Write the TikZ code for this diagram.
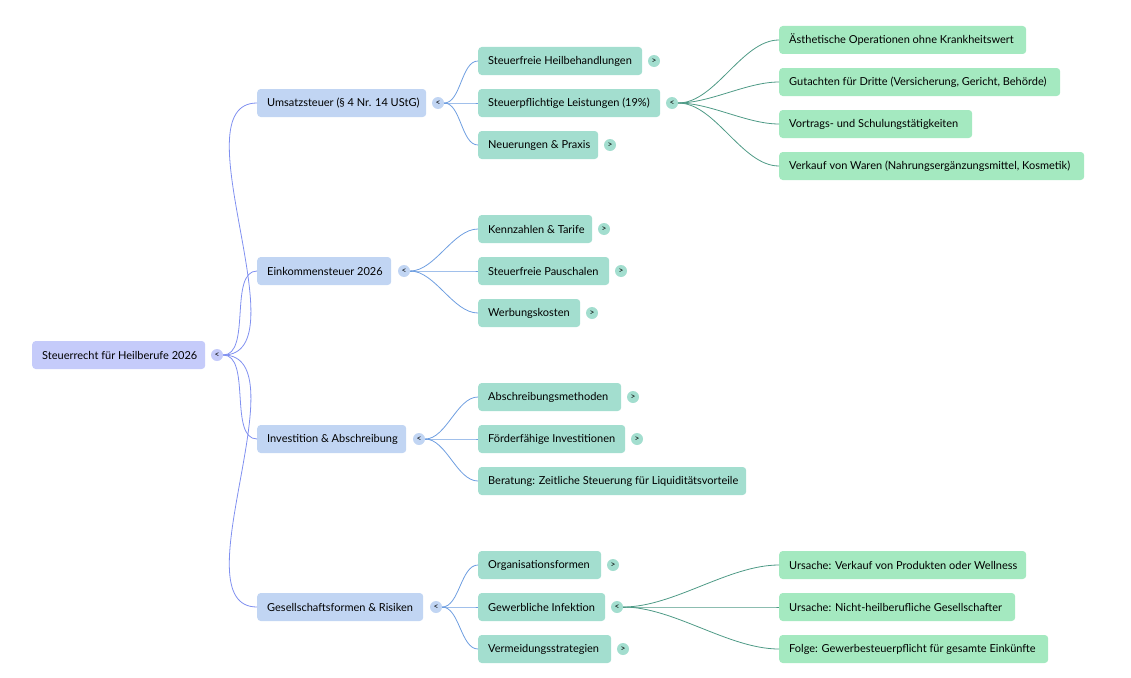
\documentclass[tikz,border=0pt]{standalone}
\usepackage{fontspec}
\setmainfont{Lato}
\begin{document}
\definecolor{cR}{HTML}{C5CBFA}
\definecolor{cA}{HTML}{C1D5F3}
\definecolor{cB}{HTML}{A3DECF}
\definecolor{cC}{HTML}{A4E9C0}
\definecolor{lR}{HTML}{8090F0}
\definecolor{lA}{HTML}{6E9EE0}
\definecolor{lB}{HTML}{4E9A86}
\begin{tikzpicture}[x=1pt,y=-1pt,
  box/.style={draw=none,rounded corners=3.5pt,minimum height=28pt,inner xsep=10pt,anchor=west,font=\fontsize{11}{12}\selectfont},
  tg/.style={circle,inner sep=0pt,minimum size=12pt,font=\fontsize{8.5}{8.5}\selectfont},
  ln/.style={line width=0.8pt,out=0,in=180,looseness=0.8}]
\useasboundingbox (0,0) rectangle (1131,677);
\newcommand\bx[6]{\node[box,fill=#2] (#1) at (#3,#4) {\makebox[\dimexpr#5-20pt\relax][l]{#6}};}
\newcommand\tgl[5]{\node[tg,fill=#2] (#1) at (#3,#4) {#5};}
% root
\bx{r}{cR}{32}{355}{173pt}{Steuerrecht für Heilberufe 2026}
\tgl{tr}{cR}{217}{355}{<}
% level 1
\bx{a1}{cA}{257}{103}{169pt}{Umsatzsteuer (§ 4 Nr. 14 UStG)}
\tgl{ta1}{cA}{438}{103}{<}
\bx{a2}{cA}{257}{271}{134pt}{Einkommensteuer 2026}
\tgl{ta2}{cA}{404}{271}{<}
\bx{a3}{cA}{257}{439}{149pt}{Investition \& Abschreibung}
\tgl{ta3}{cA}{419}{439}{<}
\bx{a4}{cA}{257}{607}{166pt}{Gesellschaftsformen \& Risiken}
\tgl{ta4}{cA}{436}{607}{<}
% level 2
\bx{b1}{cB}{478}{61}{164pt}{Steuerfreie Heilbehandlungen}\tgl{tb1}{cB}{654}{61}{>}
\bx{b2}{cB}{478}{103}{182pt}{Steuerpflichtige Leistungen (19\%)}\tgl{tb2}{cB}{672}{103}{<}
\bx{b3}{cB}{478}{145}{120pt}{Neuerungen \& Praxis}\tgl{tb3}{cB}{610}{145}{>}
\bx{b4}{cB}{478}{229}{114pt}{Kennzahlen \& Tarife}\tgl{tb4}{cB}{604}{229}{>}
\bx{b5}{cB}{478}{271}{131pt}{Steuerfreie Pauschalen}\tgl{tb5}{cB}{621}{271}{>}
\bx{b6}{cB}{478}{313}{102pt}{Werbungskosten}\tgl{tb6}{cB}{592}{313}{>}
\bx{b7}{cB}{478}{397}{143pt}{Abschreibungsmethoden}\tgl{tb7}{cB}{633}{397}{>}
\bx{b8}{cB}{478}{439}{147pt}{Förderfähige Investitionen}\tgl{tb8}{cB}{637}{439}{>}
\bx{b9}{cB}{478}{481}{268pt}{Beratung: Zeitliche Steuerung für Liquiditätsvorteile}
\bx{b10}{cB}{478}{565}{123pt}{Organisationsformen}\tgl{tb10}{cB}{613}{565}{>}
\bx{b11}{cB}{478}{607}{127pt}{Gewerbliche Infektion}\tgl{tb11}{cB}{617}{607}{<}
\bx{b12}{cB}{478}{649}{133pt}{Vermeidungsstrategien}\tgl{tb12}{cB}{623}{649}{>}
% level 3
\bx{c1}{cC}{779}{40}{247pt}{Ästhetische Operationen ohne Krankheitswert}
\bx{c2}{cC}{779}{82}{281pt}{Gutachten für Dritte (Versicherung, Gericht, Behörde)}
\bx{c3}{cC}{779}{124}{193pt}{Vortrags- und Schulungstätigkeiten}
\bx{c4}{cC}{779}{166}{305pt}{Verkauf von Waren (Nahrungsergänzungsmittel, Kosmetik)}
\bx{c5}{cC}{779}{565}{247pt}{Ursache: Verkauf von Produkten oder Wellness}
\bx{c6}{cC}{779}{607}{236pt}{Ursache: Nicht-heilberufliche Gesellschafter}
\bx{c7}{cC}{779}{649}{269pt}{Folge: Gewerbesteuerpflicht für gesamte Einkünfte}
% connectors
\foreach \t in {a1,a2,a3,a4} \draw[ln,lR] (tr.east) to (\t.west);
\foreach \t in {b1,b2,b3} \draw[ln,lA] (ta1.east) to (\t.west);
\foreach \t in {b4,b5,b6} \draw[ln,lA] (ta2.east) to (\t.west);
\foreach \t in {b7,b8,b9} \draw[ln,lA] (ta3.east) to (\t.west);
\foreach \t in {b10,b11,b12} \draw[ln,lA] (ta4.east) to (\t.west);
\foreach \t in {c1,c2,c3,c4} \draw[ln,lB] (tb2.east) to (\t.west);
\foreach \t in {c5,c6,c7} \draw[ln,lB] (tb11.east) to (\t.west);
\end{tikzpicture}
\end{document}
